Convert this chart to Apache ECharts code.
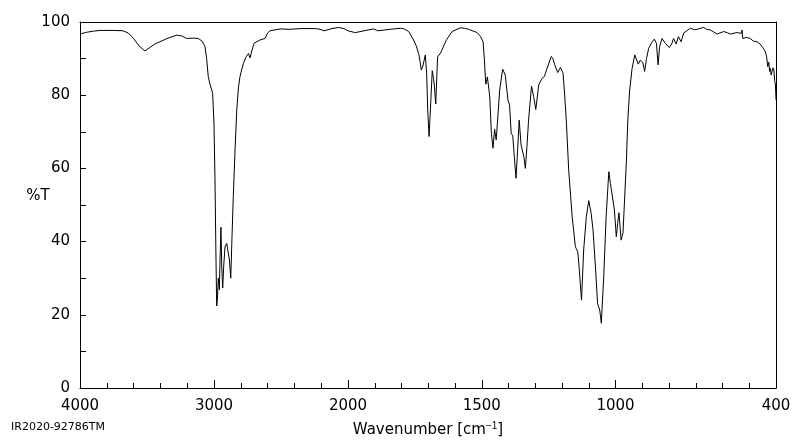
<!DOCTYPE html>
<html>
<head>
<meta charset="utf-8">
<script src="https://cdn.jsdelivr.net/npm/echarts@6/dist/echarts.min.js"></script>
<style>
  html, body { margin: 0; padding: 0; background: #fff; }
  #ir-chart { width: 800px; height: 441px; }
</style>
</head>
<body>
<div id="ir-chart"></div>
<script>
// IR spectrum, wavenumber in cm-1 (descending) and transmittance in %T
const wavenumbers = [
  4000, 3950, 3900, 3850, 3750, 3680, 3640, 3600, 3560, 3516, 3480, 3440, 3404, 3350, 3279, 3240,
  3204, 3150, 3117, 3090, 3067, 3055, 3043, 3030, 3017, 3010, 3000, 2993, 2985, 2980, 2975, 2968,
  2960, 2955, 2948, 2942, 2935, 2928, 2918, 2905, 2893, 2885, 2875, 2865, 2856, 2843, 2830, 2818,
  2806, 2781, 2760, 2743, 2731, 2715, 2701, 2656, 2619, 2600, 2581, 2506, 2432, 2357, 2244, 2210,
  2177, 2120, 2070, 2030, 2000,
  1973, 1940, 1904, 1889, 1842, 1804, 1790, 1773, 1755, 1745, 1736, 1730, 1726, 1720, 1711, 1706,
  1702, 1697, 1692, 1685, 1680, 1677, 1672, 1668, 1665, 1655, 1645, 1632, 1611, 1580, 1565, 1549,
  1517, 1505, 1495, 1490, 1485, 1483, 1479, 1476, 1470, 1464, 1458, 1452, 1446, 1440, 1433, 1422,
  1412, 1402, 1396, 1390, 1384, 1378, 1372, 1366, 1360, 1353, 1347, 1342, 1337, 1331, 1325, 1314,
  1306, 1298, 1287, 1275, 1266, 1256, 1240, 1234, 1227, 1216, 1206, 1196, 1190, 1184, 1175, 1162,
  1150, 1141, 1136, 1127, 1119, 1109, 1100, 1091, 1084, 1075, 1067, 1059, 1053, 1044, 1035, 1025,
  1019, 1012, 1004, 997, 992, 987, 979, 972, 966, 959, 954, 947, 938, 928, 922, 915,
  907, 898, 891, 884, 876, 863, 855, 847, 841, 835, 826, 814, 799, 790, 783, 773,
  765, 755, 745, 739, 720, 705, 695, 683, 670, 660, 645, 620, 610, 595, 580, 570,
  555, 545, 530, 527, 524, 518, 510, 496, 485, 471, 460, 452, 445, 440, 435, 431,
  427, 424, 421, 418, 414, 411, 408, 405, 402, 400
];
const transmittance = [
  96.7, 97.2, 97.5, 97.7, 97.7, 97.6, 97.0, 95.5, 93.5, 92.1, 93.0, 94.0, 94.6, 95.5, 96.4, 96.2,
  95.5, 95.6, 95.5, 94.8, 93.3, 90.0, 85.1, 83.0, 81.4, 80.5, 72.0, 57.7, 35.0, 22.4, 24.0, 30.0,
  26.8, 35.0, 43.9, 33.0, 27.3, 33.0, 38.6, 39.5, 39.5, 35.0, 30.0, 42.0, 52.3, 65.0, 76.0, 82.0,
  85.1, 88.7, 90.5, 91.4, 90.2, 92.5, 94.2, 95.1, 95.5, 97.0, 97.6, 98.1, 98.0, 98.2, 98.2, 98.0,
  97.6, 98.2, 98.5, 98.2, 97.6,
  97.1, 97.6, 98.1, 97.6, 98.0, 98.3, 98.1, 97.4, 95.1, 93.5, 91.4, 89.0, 86.9, 88.0, 91.0, 86.0,
  76.0, 68.7, 76.0, 86.7, 84.5, 82.4, 77.6, 85.0, 90.5, 91.4, 93.0, 95.1, 97.4, 98.4, 98.3, 98.0,
  97.1, 96.1, 94.6, 89.6, 83.0, 82.8, 85.0, 85.1, 79.6, 69.6, 65.5, 70.7, 67.8, 74.0, 81.4, 87.1,
  85.5, 78.7, 77.3, 69.6, 68.9, 63.0, 57.3, 65.0, 73.2, 66.4, 65.9, 63.0, 60.0, 66.0, 73.2, 82.5,
  79.6, 76.1, 82.8, 84.6, 85.1, 87.3, 90.6, 90.0, 88.3, 86.2, 87.6, 86.0, 80.0, 73.2, 59.6, 46.8,
  38.6, 37.2, 33.0, 24.0, 37.7, 46.8, 51.2, 47.7, 43.2, 33.1, 23.1, 21.3, 17.7, 30.4, 46.8, 59.1,
  55.9, 55.7, 48.6, 41.3, 45.0, 47.9, 40.4, 42.4, 42.1, 62.3, 73.2, 81.4, 87.3, 91.0, 90.5, 88.5,
  89.6, 88.9, 86.5, 90.0, 92.8, 94.6, 95.3, 94.2, 88.3, 93.3, 95.5, 94.2, 93.0, 94.0, 95.5, 94.0,
  96.0, 94.6, 97.0, 97.4, 98.3, 97.9, 98.0, 98.3, 98.5, 98.0, 97.8, 96.7, 97.0, 97.4, 97.0, 96.7,
  97.0, 97.1, 96.9, 97.8, 95.5, 95.1, 95.8, 95.5, 94.8, 94.6, 94.0, 93.3, 92.5, 91.9, 90.5, 87.8,
  89.0, 86.5, 87.3, 85.5, 86.0, 87.5, 86.9, 84.0, 82.8, 78.7
];
const highLabels = [4000, 3000, 2000];
const lowLabels = [1500, 1000, 400];

const chart = echarts.init(document.getElementById('ir-chart'));

// the scale changes at 2000 cm-1, so the spectrum is split over two grids
const points = wavenumbers.map((w, i) => [w, transmittance[i]]);
const highPart = points.filter((p) => p[0] >= 2000);
const lowPart = points.filter((p) => p[0] <= 2000);

const font = 'DejaVu Sans';
const black = '#000';

function mainAxis(grid, min, max, labels) {
  return {
    type: 'value', gridIndex: grid, min, max, inverse: true, position: 'bottom',
    axisLine: { show: true, onZero: false, lineStyle: { color: black, width: 1 } },
    axisTick: { show: true, inside: true, length: 8, customValues: labels, lineStyle: { color: black } },
    axisLabel: {
      show: true, customValues: labels, color: black, fontSize: 15, fontFamily: font, margin: 11,
      formatter: (v) => String(v),
    },
    splitLine: { show: false },
  };
}
function minorAxis(grid, min, max, step) {
  return {
    type: 'value', gridIndex: grid, min, max, interval: step, inverse: true, position: 'bottom',
    axisLine: { show: false, onZero: false },
    axisTick: { show: true, inside: true, length: 5, lineStyle: { color: black } },
    axisLabel: { show: false },
    splitLine: { show: false },
  };
}
function topAxis(grid, min, max) {
  return {
    type: 'value', gridIndex: grid, min, max, inverse: true, position: 'top',
    axisLine: { show: true, onZero: false, lineStyle: { color: black, width: 1 } },
    axisTick: { show: false }, axisLabel: { show: false }, splitLine: { show: false },
  };
}

const option = {
  animation: false,
  textStyle: { fontFamily: font },
  grid: [
    { left: 80, top: 22, width: 268, height: 366, show: false },
    { left: 348, top: 22, width: 428, height: 366, show: false },
  ],
  xAxis: [
    mainAxis(0, 2000, 4000, highLabels),
    minorAxis(0, 2000, 4000, 200),
    topAxis(0, 2000, 4000),
    mainAxis(1, 400, 2000, lowLabels),
    minorAxis(1, 400, 2000, 100),
    topAxis(1, 400, 2000),
  ],
  yAxis: [
    {
      type: 'value', gridIndex: 0, min: 0, max: 100, interval: 10, position: 'left',
      axisLine: { show: true, lineStyle: { color: black, width: 1 } },
      axisTick: { show: true, inside: true, length: 6, lineStyle: { color: black } },
      axisLabel: {
        color: black, fontSize: 15, fontFamily: font, margin: 10,
        formatter: (v) => (v % 20 === 0 ? String(v) : ''),
      },
      splitLine: { show: false },
    },
    {
      type: 'value', gridIndex: 1, min: 0, max: 100, position: 'right',
      axisLine: { show: true, lineStyle: { color: black, width: 1 } },
      axisTick: { show: false }, axisLabel: { show: false }, splitLine: { show: false },
    },
  ],
  series: [
    {
      type: 'line', xAxisIndex: 0, yAxisIndex: 0, data: highPart, showSymbol: false,
      lineStyle: { color: black, width: 1 }, silent: true,
    },
    {
      type: 'line', xAxisIndex: 3, yAxisIndex: 1, data: lowPart, showSymbol: false,
      lineStyle: { color: black, width: 1 }, silent: true,
    },
  ],
  graphic: [
    {
      type: 'text', x: 38, y: 196,
      style: { text: '%T', align: 'center', verticalAlign: 'middle', fill: black, font: '15px "DejaVu Sans"' },
    },
    {
      type: 'text', x: 428, y: 430,
      style: {
        text: 'Wavenumber [cm{sup|−1}]', align: 'center', verticalAlign: 'middle',
        fill: black, font: '15px "DejaVu Sans"',
        rich: { sup: { fontSize: 10, verticalAlign: 'top', padding: [0, 0, 8, 0], fill: black } },
      },
    },
    {
      type: 'text', x: 11, y: 427,
      style: { text: 'IR2020-92786TM', fill: black, font: '11px "DejaVu Sans"', verticalAlign: 'middle' },
    },
  ],
};

chart.setOption(option);
</script>
</body>
</html>
